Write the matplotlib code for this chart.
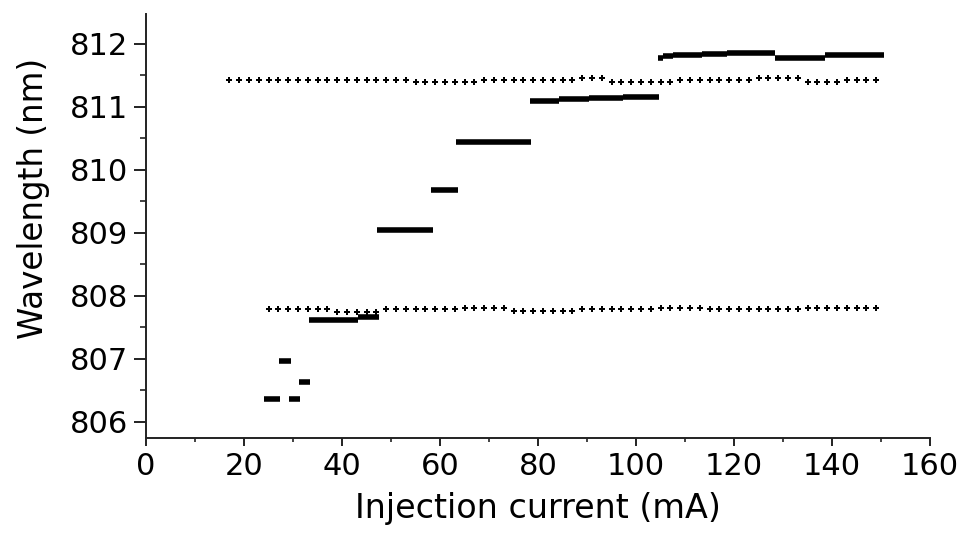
import matplotlib
matplotlib.use("Agg")
import matplotlib.pyplot as plt
from matplotlib.ticker import MultipleLocator

# lasing mode segments: start current, end current, wavelength
seg_start = [24.1, 29.2, 27.1, 31.2, 33.3, 43.3, 47.2, 58.2, 63.3, 78.4,
             84.3, 90.5, 97.4, 104.4, 105.6, 107.6, 113.4, 118.5, 128.4, 138.6]
seg_end = [27.4, 31.5, 29.5, 33.5, 43.3, 47.6, 58.5, 63.6, 78.6, 84.3,
           90.5, 97.4, 104.6, 105.6, 107.6, 113.4, 118.5, 128.4, 138.6, 150.6]
seg_wl = [806.36, 806.36, 806.97, 806.63, 807.62, 807.66, 809.04, 809.68, 810.44, 811.10,
          811.12, 811.14, 811.16, 811.78, 811.81, 811.83, 811.84, 811.86, 811.78, 811.83]

# reference (dotted) traces
upper_current = list(range(17, 150, 2))
upper_wl = ([811.42] * 19 + [811.39] * 7 + [811.42] * 10 + [811.46] * 3 + [811.39] * 7
            + [811.42] * 8 + [811.46] * 5 + [811.39] * 4 + [811.42] * 4)
lower_current = list(range(25, 150, 2))
lower_wl = ([807.79] * 7 + [807.75] * 5 + [807.79] * 8 + [807.81] * 5 + [807.76] * 7
            + [807.79] * 8 + [807.81] * 5 + [807.79] * 10 + [807.81] * 8)

plt.rcParams["font.family"] = ["DejaVu Sans"]

fig = plt.figure(figsize=(9.69, 5.35), dpi=100)
ax = fig.add_axes([0.1507, 0.1819, 0.8091, 0.7914])

ax.plot(upper_current, upper_wl, linestyle="none", marker="P", markersize=5,
        color="black", markeredgewidth=0)
ax.plot(lower_current, lower_wl, linestyle="none", marker="P", markersize=5,
        color="black", markeredgewidth=0)
ax.hlines(seg_wl, seg_start, seg_end, colors="black", linewidth=4)

ax.set_xlim(0, 160)
ax.set_ylim(805.75, 812.47)
ax.xaxis.set_major_locator(MultipleLocator(20))
ax.xaxis.set_minor_locator(MultipleLocator(10))
ax.yaxis.set_major_locator(MultipleLocator(1))
ax.yaxis.set_minor_locator(MultipleLocator(0.5))

for side in ("top", "right"):
    ax.spines[side].set_visible(False)
for side in ("left", "bottom"):
    ax.spines[side].set_linewidth(1.4)
    ax.spines[side].set_color("#222222")

ax.tick_params(axis="y", which="major", length=9, width=1.4, pad=4, labelsize=22, color="#222222")
ax.tick_params(axis="y", which="minor", length=4.3, width=1.2, color="#222222")
ax.tick_params(axis="x", which="major", length=5.5, width=1.4, pad=5, labelsize=22, color="#222222")
ax.tick_params(axis="x", which="minor", length=3, width=1.2, color="#222222")

ax.set_xlabel("Injection current (mA)", fontsize=24, va="center")
ax.set_ylabel("Wavelength (nm)", fontsize=23.5, va="center")
ax.xaxis.set_label_coords(0.5, -0.168)
ax.yaxis.set_label_coords(-0.144, 0.564)

fig.savefig("out.png", dpi=100)
